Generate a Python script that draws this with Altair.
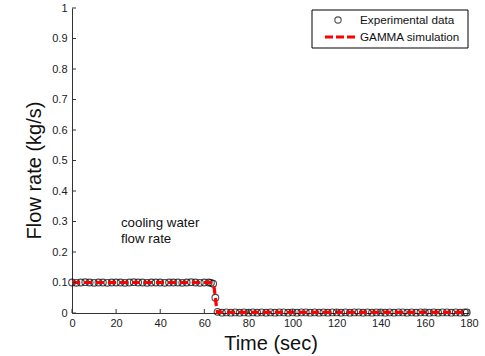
import altair as alt
import pandas as pd

# Experimental data (time in s, flow rate in kg/s)
exp_time = [0, 2, 4, 6, 8, 10, 12, 14, 16, 18, 20, 22, 24, 26, 28, 30, 32, 34, 36, 38,
            40, 42, 44, 46, 48, 50, 52, 54, 56, 58, 60, 62, 63, 64, 65, 66, 68, 70, 72,
            74, 76, 78, 80, 82, 84, 86, 88, 90, 92, 94, 96, 98, 100, 102, 104, 106, 108,
            110, 112, 114, 116, 118, 120, 122, 124, 126, 128, 130, 132, 134, 136, 138,
            140, 142, 144, 146, 148, 150, 152, 154, 156, 158, 160, 162, 164, 166, 168,
            170, 172, 174, 176, 178, 179]
exp_flow = [0.100, 0.099, 0.100, 0.101, 0.100, 0.099, 0.100, 0.100, 0.099, 0.100, 0.100,
            0.100, 0.099, 0.100, 0.101, 0.100, 0.100, 0.099, 0.100, 0.100, 0.100, 0.099,
            0.100, 0.100, 0.100, 0.099, 0.100, 0.101, 0.100, 0.099, 0.100, 0.100, 0.099,
            0.096, 0.050, 0.004, 0.001, 0.002, 0.001, 0.002, 0.001, 0.002, 0.001, 0.002,
            0.001, 0.002, 0.001, 0.002, 0.001, 0.002, 0.002, 0.001, 0.002, 0.001, 0.002,
            0.002, 0.001, 0.002, 0.001, 0.002, 0.001, 0.002, 0.002, 0.001, 0.002, 0.001,
            0.002, 0.002, 0.001, 0.002, 0.001, 0.002, 0.002, 0.001, 0.002, 0.001, 0.002,
            0.002, 0.001, 0.002, 0.001, 0.002, 0.002, 0.001, 0.002, 0.001, 0.002, 0.002,
            0.001, 0.002, 0.001, 0.002, 0.002]

# GAMMA simulation
sim_time = [0, 63, 63.5, 64, 64.5, 65, 65.5, 66, 179]
sim_flow = [0.100, 0.100, 0.099, 0.096, 0.080, 0.050, 0.020, 0.002, 0.002]

y_ticks = [0, 0.1, 0.2, 0.3, 0.4, 0.5, 0.6, 0.7, 0.8, 0.9, 1.0]
x_ticks = [0, 20, 40, 60, 80, 100, 120, 140, 160, 180]

FONT = "Liberation Sans"
W, H = 397, 305

exp_df = pd.DataFrame({"t": exp_time, "q": exp_flow})
sim_df = pd.DataFrame({"t": sim_time, "q": sim_flow})

xs = alt.Scale(domain=[0, 180], nice=False)
ys = alt.Scale(domain=[0, 1], nice=False)

x_axis = alt.Axis(values=x_ticks, tickSize=0, labelPadding=4, labelFontSize=11,
                  labelFont=FONT, labelColor="#222", title="Time (sec)",
                  titleFont=FONT, titleFontSize=20, titleFontWeight="normal",
                  titleColor="#111", titlePadding=5, grid=False, format="d",
                  domainColor="#333", labelFlush=False, labelOverlap=False)
y_axis = alt.Axis(values=y_ticks, tickSize=0, labelPadding=5, labelFontSize=11,
                  labelFont=FONT, labelColor="#222", title="Flow rate (kg/s)",
                  titleFont=FONT, titleFontSize=20, titleFontWeight="normal",
                  titleColor="#111", titlePadding=7, titleY=162, grid=False,
                  format="~g", domainColor="#333", labelFlush=False,
                  labelOverlap=False)


def X(field):
    return alt.X(field, type="quantitative", scale=xs, axis=x_axis)


def Y(field):
    return alt.Y(field, type="quantitative", scale=ys, axis=y_axis)


points = alt.Chart(exp_df).mark_point(
    shape="circle", size=45, filled=False, color="black", strokeWidth=1.1
).encode(x=X("t"), y=Y("q"))

line = alt.Chart(sim_df).mark_line(
    color="#ff0000", strokeWidth=3.2, strokeDash=[8, 4]
).encode(x=X("t"), y=Y("q"))

# inward tick marks
ytick_df = pd.DataFrame({"v": y_ticks})
xtick_df = pd.DataFrame({"v": x_ticks})
yticks = alt.Chart(ytick_df).mark_rule(color="#333", strokeWidth=1).encode(
    y=Y("v"), x=alt.value(0), x2=alt.value(4))
xticks = alt.Chart(xtick_df).mark_rule(color="#333", strokeWidth=1).encode(
    x=X("v"), y=alt.value(H), y2=alt.value(H - 4))

note_df = pd.DataFrame({"t": [22.2], "q": [0.295], "label": ["cooling water\nflow rate"]})
note = alt.Chart(note_df).mark_text(
    align="left", baseline="middle", font=FONT, fontSize=13.3, lineBreak="\n",
    lineHeight=16, color="#111"
).encode(x=X("t"), y=Y("q"), text="label:N")

# legend box
lg_box = alt.Chart(pd.DataFrame({"a": [0]})).mark_rect(
    fill="white", stroke="black", strokeWidth=1
).encode(x=alt.value(240), x2=alt.value(396), y=alt.value(2), y2=alt.value(40))
lg_pt = alt.Chart(pd.DataFrame({"a": [0]})).mark_point(
    shape="circle", size=40, filled=False, color="black", strokeWidth=1.1
).encode(x=alt.value(266), y=alt.value(12))
lg_line = alt.Chart(pd.DataFrame({"a": [0]})).mark_rule(
    color="#ff0000", strokeWidth=3.2, strokeDash=[8, 3]
).encode(x=alt.value(253), x2=alt.value(284), y=alt.value(29))
lg_txt = alt.Chart(pd.DataFrame({"y": [12, 29], "label": ["Experimental data", "GAMMA simulation"]})).mark_text(
    align="left", baseline="middle", font=FONT, fontSize=11.7, color="#111"
).encode(x=alt.value(288), y=alt.Y("y:Q", scale=None), text="label:N")

chart = alt.layer(
    points, line, yticks, xticks, note, lg_box, lg_pt, lg_line, lg_txt
).properties(
    width=W, height=H,
    autosize=alt.AutoSizeParams(type="none"),
    padding={"left": 72, "top": 8, "right": 16, "bottom": 43},
    background="white",
).configure_view(stroke=None)

chart.save("out.html", embed_options={"renderer": "svg", "actions": False})
